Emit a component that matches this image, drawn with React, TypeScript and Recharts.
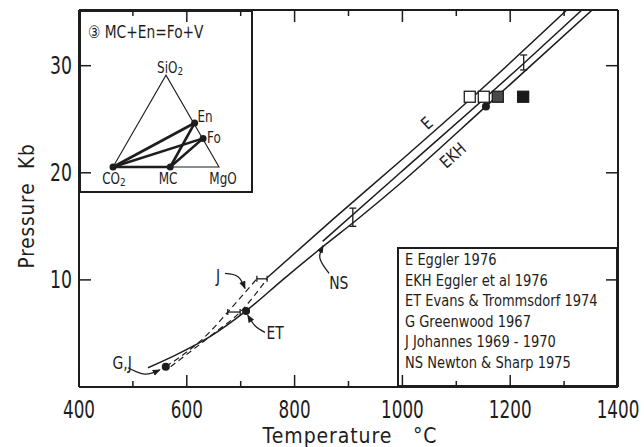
import React from "react";
import { ComposedChart, Line, Scatter, XAxis, YAxis, ErrorBar } from "recharts";

const FONT = "'DejaVu Sans', sans-serif";
const INK = "#1d1d1d";

// main diagram: temperature (°C) against pressure (kb)
const eTemp = [749, 870, 996, 1131, 1305];
const ePres = [10.2, 15.6, 21.1, 27.1, 35.2];
const nsTemp = [852, 996, 1227, 1333];
const nsPres = [13.6, 20.0, 30.3, 35.2];
const ekhTemp = [528, 580, 643, 710, 780, 850, 920, 996, 1155, 1352];
const ekhPres = [1.8, 3.0, 4.7, 7.1, 10.1, 13.0, 15.8, 19.0, 26.2, 35.2];
const jLeftTemp = [561, 640, 676, 730];
const jLeftPres = [1.9, 5.0, 7.0, 10.1];
const jRightTemp = [570, 650, 699, 749];
const jRightPres = [1.9, 5.0, 7.0, 10.1];

const dotTemp = [561, 710, 1155];
const dotPres = [1.9, 7.1, 26.2];
const openSqTemp = [1125, 1151];
const graySqTemp = [1177];
const blackSqTemp = [1224];
const sqPres = 27.1;

// brackets: J horizontal, NS vertical
const jBarTemp = [687.5, 739.5];
const jBarPres = [7.0, 10.1];
const jBarErr = [11.5, 9.5];
const nsBarTemp = [908, 1225];
const nsBarPres = [15.85, 30.3];
const nsBarErr = [0.85, 0.7];

const labelText = ["E", "EKH", "NS", "J", "ET", "G,J"];
const labelTemp = [1046, 1094, 882, 658, 764, 480];
const labelPres = [24.6, 21.6, 9.7, 10.3, 5.0, 2.15];
const labelAngle = [-42, -42, 0, 0, 0, 0];

// curved arrows, tail to tip
const arrowNsTemp = [864, 847, 853];
const arrowNsPres = [10.6, 12.0, 13.2];
const arrowJTemp = [671, 695, 708];
const arrowJPres = [10.6, 10.3, 9.2];
const arrowEtTemp = [745, 727, 713];
const arrowEtPres = [5.1, 5.7, 6.7];
const arrowGjTemp = [491, 522, 550];
const arrowGjPres = [1.8, 1.2, 1.6];

const xTicks = [400, 500, 600, 700, 800, 900, 1000, 1100, 1200, 1300, 1400];
const yTicks = [10, 20, 30];

const legendAbbr = ["E", "EKH", "ET", "G", "J", "NS"];
const legendRef = [
  "Eggler 1976",
  "Eggler et al 1976",
  "Evans & Trommsdorf 1974",
  "Greenwood 1967",
  "Johannes 1969 - 1970",
  "Newton & Sharp 1975",
];

// inset: CO2 - MgO - SiO2 triangle
const triX = [0, 0.5, 1, 0];
const triY = [0, 0.866, 0, 0];
const phaseName = ["CO2", "MC", "En", "Fo"];
const phaseX = [0, 0.54, 0.77, 0.85];
const phaseY = [0, 0, 0.415, 0.27];
const tieFrom = ["CO2", "CO2", "MC", "MC", "CO2"];
const tieTo = ["En", "Fo", "En", "Fo", "MC"];
const insetLabel = ["SiO2", "En", "Fo", "CO2", "MC", "MgO"];
const insetLabelX = [0.538, 0.868, 0.953, 0.009, 0.519, 1.038];
const insetLabelY = [0.943, 0.481, 0.274, -0.104, -0.104, -0.104];

const W = 644;
const H = 447;
const PLOT = { left: 79, top: 10, right: 618, bottom: 387 };
const INSET = { left: 79, top: 10, width: 174, height: 183, ox: 34, oy: 157, unit: 106 };

const pts = (ts: number[], ps: number[]) => ts.map((t, i) => ({ t, p: ps[i] }));
const xy = (xs: number[], ys: number[]) => xs.map((x, i) => ({ x, y: ys[i] }));

// DejaVu is wider than the lettering in the figure, so text is squeezed horizontally
function Narrow(props: {
  x: number; y: number; size: number; sx: number; anchor?: string; rotate?: number; central?: boolean; children: React.ReactNode;
}) {
  const { x, y, size, sx, anchor = "middle", rotate = 0, central, children } = props;
  return (
    <text
      transform={`translate(${x},${y}) rotate(${rotate}) scale(${sx},1)`}
      textAnchor={anchor}
      dominantBaseline={central ? "central" : undefined}
      fontFamily={FONT}
      fontSize={size}
      fill={INK}
    >
      {children}
    </text>
  );
}

function BottomTick(props: any) {
  const { x, payload } = props;
  const v = payload.value as number;
  const major = v % 200 === 0;
  return (
    <g>
      <line x1={x} x2={x} y1={PLOT.bottom} y2={PLOT.bottom - (major ? 12 : 6)} stroke={INK} strokeWidth={1.5} />
      {major && <Narrow x={x} y={PLOT.bottom + 31} size={24} sx={0.7}>{v}</Narrow>}
    </g>
  );
}

function TopTick(props: any) {
  const { x, payload } = props;
  const major = (payload.value as number) % 200 === 0;
  return <line x1={x} x2={x} y1={PLOT.top} y2={PLOT.top + (major ? 12 : 6)} stroke={INK} strokeWidth={1.5} />;
}

function LeftTick(props: any) {
  const { y, payload } = props;
  return (
    <g>
      <line x1={PLOT.left} x2={PLOT.left + 12} y1={y} y2={y} stroke={INK} strokeWidth={1.5} />
      <Narrow x={PLOT.left - 7} y={y + 8.5} size={24} sx={0.72} anchor="end">{payload.value}</Narrow>
    </g>
  );
}

function RightTick(props: any) {
  const { y } = props;
  return <line x1={PLOT.right} x2={PLOT.right - 12} y1={y} y2={y} stroke={INK} strokeWidth={1.5} />;
}

const Empty = () => <g />;
const Dot = (props: any) => <circle cx={props.cx} cy={props.cy} r={4} fill={INK} />;
const square = (fill: string) => (props: any) =>
  <rect x={props.cx - 5.5} y={props.cy - 5.5} width={11} height={11} fill={fill} stroke={INK} strokeWidth={1.3} />;

function CurveLabel(props: any) {
  const { cx, cy, payload } = props;
  return (
    <Narrow x={cx} y={cy} size={17} sx={0.82} rotate={payload.angle} central>
      {payload.text}
    </Narrow>
  );
}

function PhaseLabel(props: any) {
  const { cx, cy, payload } = props;
  const m = /^(.*?)(\d)$/.exec(payload.name);
  return (
    <Narrow x={cx} y={cy} size={15} sx={0.8} central>
      {m ? (
        <>
          <tspan>{m[1]}</tspan>
          <tspan dy={4} fontSize={11}>
            {m[2]}
          </tspan>
        </>
      ) : (
        payload.name
      )}
    </Narrow>
  );
}

const lineProps = { dot: false, activeDot: false, isAnimationActive: false, stroke: INK } as const;

function MainChart() {
  const frame = { stroke: INK, strokeWidth: 2 };
  return (
    <ComposedChart width={W} height={H} margin={{ top: PLOT.top - 1, right: W - PLOT.right - 1, bottom: 0, left: 0 }}>
      <defs>
        <marker id="arrowHead" viewBox="0 0 10 10" refX="9" refY="5" markerWidth="8" markerHeight="8" markerUnits="userSpaceOnUse" orient="auto">
          <path d="M0,1 L10,5 L0,9 z" fill={INK} />
        </marker>
      </defs>
      <XAxis dataKey="t" type="number" domain={[400, 1400]} ticks={xTicks} interval={0} height={H - PLOT.bottom}
        tick={<BottomTick />} tickLine={false} axisLine={frame} allowDataOverflow />
      <XAxis xAxisId="top" orientation="top" dataKey="t" type="number" domain={[400, 1400]} ticks={xTicks} interval={0} height={1}
        tick={<TopTick />} tickLine={false} axisLine={frame} allowDataOverflow />
      <YAxis dataKey="p" type="number" domain={[0, 35.2]} ticks={yTicks} interval={0} width={PLOT.left}
        tick={<LeftTick />} tickLine={false} axisLine={frame} allowDataOverflow />
      <YAxis yAxisId="right" orientation="right" dataKey="p" type="number" domain={[0, 35.2]} ticks={yTicks} interval={0} width={1}
        tick={<RightTick />} tickLine={false} axisLine={frame} allowDataOverflow />

      <Line data={pts(eTemp, ePres)} dataKey="p" type="monotone" strokeWidth={1.5} {...lineProps} />
      <Line data={pts(nsTemp, nsPres)} dataKey="p" type="monotone" strokeWidth={1.5} {...lineProps} />
      <Line data={pts(ekhTemp, ekhPres)} dataKey="p" type="monotone" strokeWidth={1.5} {...lineProps} />
      <Line data={pts(jLeftTemp, jLeftPres)} dataKey="p" type="monotone" strokeWidth={1.2} strokeDasharray="6 4" {...lineProps} />
      <Line data={pts(jRightTemp, jRightPres)} dataKey="p" type="monotone" strokeWidth={1.2} strokeDasharray="6 4" {...lineProps} />

      {[
        [arrowNsTemp, arrowNsPres],
        [arrowJTemp, arrowJPres],
        [arrowEtTemp, arrowEtPres],
        [arrowGjTemp, arrowGjPres],
      ].map(([ts, ps], i) => (
        <Line key={i} data={pts(ts, ps)} dataKey="p" type="natural" strokeWidth={1.3} markerEnd="url(#arrowHead)" {...lineProps} />
      ))}

      <Scatter data={jBarTemp.map((t, i) => ({ t, p: jBarPres[i], e: jBarErr[i] }))} dataKey="p" shape={Empty} isAnimationActive={false}>
        <ErrorBar dataKey="e" direction="x" width={3} stroke={INK} strokeWidth={1.3} isAnimationActive={false} />
      </Scatter>
      <Scatter data={nsBarTemp.map((t, i) => ({ t, p: nsBarPres[i], e: nsBarErr[i] }))} dataKey="p" shape={Empty} isAnimationActive={false}>
        <ErrorBar dataKey="e" direction="y" width={3.5} stroke={INK} strokeWidth={1.3} isAnimationActive={false} />
      </Scatter>

      <Scatter data={pts(dotTemp, dotPres)} dataKey="p" shape={Dot} isAnimationActive={false} />
      <Scatter data={openSqTemp.map((t) => ({ t, p: sqPres }))} dataKey="p" shape={square("#ffffff")} isAnimationActive={false} />
      <Scatter data={graySqTemp.map((t) => ({ t, p: sqPres }))} dataKey="p" shape={square("#4a4a4a")} isAnimationActive={false} />
      <Scatter data={blackSqTemp.map((t) => ({ t, p: sqPres }))} dataKey="p" shape={square("#1a1a1a")} isAnimationActive={false} />

      <Scatter
        data={labelText.map((text, i) => ({ t: labelTemp[i], p: labelPres[i], text, angle: labelAngle[i] }))}
        dataKey="p"
        shape={CurveLabel}
        isAnimationActive={false}
      />
    </ComposedChart>
  );
}

function InsetChart() {
  const xDomain = [-INSET.ox / INSET.unit, (INSET.width - INSET.ox) / INSET.unit];
  const yDomain = [-(INSET.height - INSET.oy) / INSET.unit, INSET.oy / INSET.unit];
  const phase = (n: string) => ({ x: phaseX[phaseName.indexOf(n)], y: phaseY[phaseName.indexOf(n)] });
  return (
    <ComposedChart width={INSET.width} height={INSET.height} margin={{ top: 0, right: 0, bottom: 0, left: 0 }}>
      <XAxis dataKey="x" type="number" domain={xDomain} hide allowDataOverflow />
      <YAxis dataKey="y" type="number" domain={yDomain} hide allowDataOverflow />
      <Line data={xy(triX, triY)} dataKey="y" type="linear" strokeWidth={1.1} {...lineProps} />
      {tieFrom.map((f, i) => (
        <Line key={i} data={[phase(f), phase(tieTo[i])]} dataKey="y" type="linear" strokeWidth={2.6} {...lineProps} />
      ))}
      <Scatter data={xy(phaseX, phaseY)} dataKey="y" shape={(p: any) => <circle cx={p.cx} cy={p.cy} r={3.5} fill={INK} />} isAnimationActive={false} />
      <Scatter
        data={insetLabel.map((name, i) => ({ x: insetLabelX[i], y: insetLabelY[i], name }))}
        dataKey="y"
        shape={PhaseLabel}
        isAnimationActive={false}
      />
    </ComposedChart>
  );
}

const squeeze = (sx: number) => ({ transform: `scaleX(${sx})`, transformOrigin: "0 50%" });

export default function App() {
  return (
    <div style={{ position: "fixed", left: 0, top: 0, width: W, height: H, background: "#fff", color: INK, fontFamily: FONT, overflow: "hidden" }}>
      <div style={{ position: "absolute", left: INSET.left, top: INSET.top, width: INSET.width, height: INSET.height, background: "#fff" }}>
        <InsetChart />
        <div style={{ position: "absolute", inset: 0, border: `2px solid ${INK}`, boxSizing: "border-box" }} />
        <div style={{ position: "absolute", left: 9, top: 12, fontSize: 17, lineHeight: "20px", whiteSpace: "pre", ...squeeze(0.81) }}>
          {"③ MC+En=Fo+V"}
        </div>
      </div>

      <div
        style={{
          position: "absolute",
          left: 397,
          top: 247,
          width: PLOT.right - 397,
          height: PLOT.bottom - 247,
          border: `2px solid ${INK}`,
          boxSizing: "border-box",
          background: "#fff",
          padding: "1px 0 0 6px",
          fontSize: 16.5,
          lineHeight: "20.6px",
          whiteSpace: "pre",
        }}
      >
        {legendAbbr.map((a, i) => (
          <div key={a} style={squeeze(0.79)}>{`${a} ${legendRef[i]}`}</div>
        ))}
      </div>

      <div style={{ position: "absolute", left: 0, top: 0 }}>
        <MainChart />
      </div>

      <div style={{ position: "absolute", left: 350, top: 436, transform: "translate(-50%, -50%) scaleX(0.9)", fontSize: 21, letterSpacing: 1, whiteSpace: "pre", lineHeight: 1 }}>
        {"Temperature   °C"}
      </div>
      <div style={{ position: "absolute", left: 27, top: 206, transform: "translate(-50%, -50%) rotate(-90deg) scaleX(0.88)", fontSize: 21, letterSpacing: 1, whiteSpace: "pre", lineHeight: 1 }}>
        {"Pressure  Kb"}
      </div>
    </div>
  );
}
